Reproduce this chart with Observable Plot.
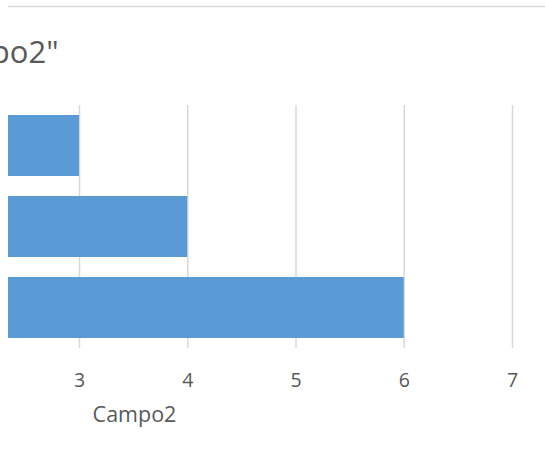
<!DOCTYPE html>
<html><head><meta charset="utf-8">
<script src="https://cdn.jsdelivr.net/npm/d3@7"></script>
<script src="https://cdn.jsdelivr.net/npm/@observablehq/plot@0.6"></script>
<style>body{margin:0;background:#fff} #chart svg{overflow:hidden}</style>
</head><body><div id="chart"></div>
<script>
const categories = ["Elemento 1", "Elemento 2", "Elemento 3"];
const values = [3, 4, 6];
const xTicks = [3, 4, 5, 6, 7];
const titleText = 'Cuenta de "Campo2"';
const axisTitle = "Campo2";

const data = categories.map((c, i) => ({category: c, value: values[i]}));

const chart = Plot.plot({
  width: 545, height: 466,
  marginLeft: 8, marginRight: 0, marginTop: 105, marginBottom: 118,
  style: {fontFamily: "'Open Sans', sans-serif", background: "#fff"},
  x: {domain: [0, 7], range: [-245.75, 512], axis: null},
  y: {domain: categories, paddingInner: 0.25, paddingOuter: 0.125, axis: null},
  marks: [
    Plot.frame({anchor: "top", insetTop: -99, stroke: "#d9d9d9", strokeWidth: 1.3}),
    Plot.gridX(xTicks, {stroke: "#d9d9d9", strokeOpacity: 1, strokeWidth: 1.5}),
    Plot.barX(data, {x: "value", y: "category", fill: "#5b9bd5", clip: true}),
    Plot.text(xTicks, {x: d => d, text: d => String(d), frameAnchor: "bottom", lineAnchor: "middle", dy: 32, fontSize: 19.5, fill: "#595959"}),
    Plot.text([axisTitle], {text: d => d, frameAnchor: "bottom-left", textAnchor: "middle", lineAnchor: "middle", dx: 126, dy: 67, fontSize: 21.5, fill: "#595959"}),
    Plot.text([titleText], {text: d => d, frameAnchor: "top-left", textAnchor: "end", lineAnchor: "middle", dx: 50, dy: -52, fontSize: 31, fill: "#595959"})
  ]
});
document.getElementById("chart").append(chart);
</script>
</body></html>
